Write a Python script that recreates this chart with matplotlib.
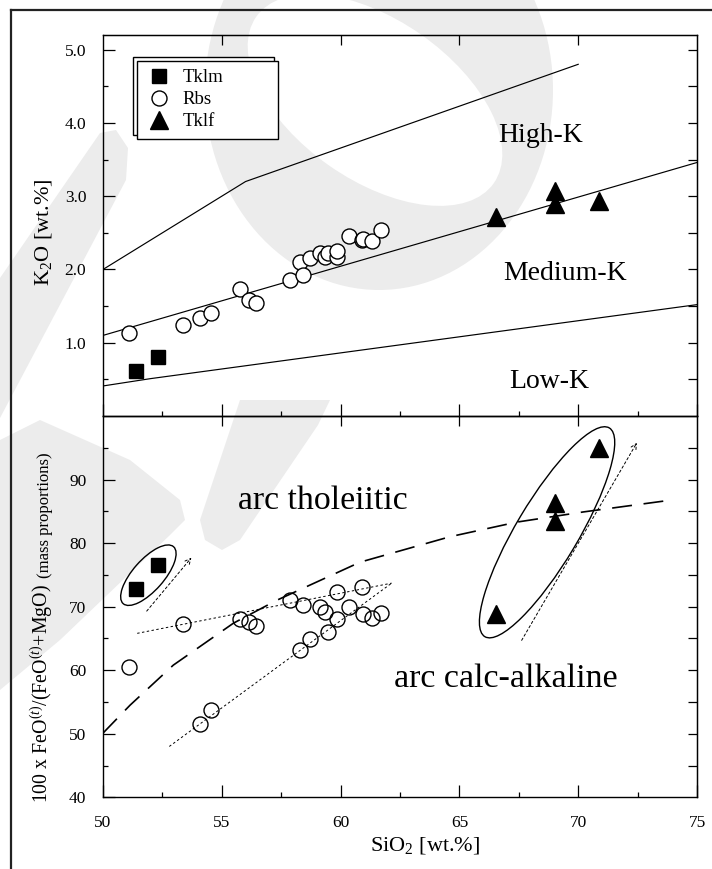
import numpy as np
import matplotlib
matplotlib.use("Agg")
import matplotlib.pyplot as plt
from matplotlib.patches import Ellipse, Polygon, Rectangle
from matplotlib.transforms import ScaledTranslation, IdentityTransform
from matplotlib.lines import Line2D

plt.rcParams['font.family'] = ['Liberation Serif', 'DejaVu Serif']
plt.rcParams['mathtext.fontset'] = 'custom'
plt.rcParams['mathtext.rm'] = 'Liberation Serif'
plt.rcParams['mathtext.it'] = 'Liberation Serif:italic'
plt.rcParams['mathtext.bf'] = 'Liberation Serif:bold'

# ---- data ----
tklm_sio2 = [51.4, 52.3]
tklm_k2o = [0.61, 0.81]
tklm_feo = [72.7, 76.5]

tklf_sio2 = [66.55, 69.03, 69.03, 70.87]
tklf_k2o = [2.72, 3.07, 2.90, 2.94]
tklf_feo = [68.8, 86.3, 83.4, 95.0]

rbs_sio2 = [51.1, 53.37, 54.1, 54.55, 55.78, 56.16, 56.44, 57.87, 58.29, 58.40, 58.72,
            59.13, 59.34, 59.48, 59.84, 59.86, 60.35, 60.9, 60.95, 61.33, 61.7]
rbs_k2o = [1.13, 1.24, 1.34, 1.41, 1.73, 1.59, 1.54, 1.85, 2.10, 1.93, 2.16,
           2.22, 2.17, 2.22, 2.17, 2.25, 2.45, 2.40, 2.42, 2.39, 2.54]
rbs_feo = [60.5, 67.2, 51.6, 53.7, 68.0, 67.6, 66.9, 71.0, 63.2, 70.3, 64.9,
           70.0, 69.1, 66.0, 72.3, 68.0, 69.9, 73.1, 68.9, 68.2, 69.0]

# K2O series boundaries
hk_sio2 = [50, 56, 70]
hk_k2o = [2.0, 3.2, 4.8]
mk_sio2 = [50, 75]
mk_k2o = [1.1, 3.46]
lk_sio2 = [50, 52, 75]
lk_k2o = [0.41, 0.51, 1.52]

# tholeiitic / calc-alkaline divide
th_sio2 = [50, 51.14, 52.96, 55.49, 57.31, 60.82, 64.6, 67.41, 70.21, 73.58]
th_feo = [50.1, 54.5, 60.8, 67.4, 71.0, 77.0, 81.0, 83.3, 84.9, 86.6]

# trend arrows (start, end) in data units
tklm_arrow = [(51.84, 69.3), (53.72, 77.7)]
tklf_arrow = [(67.62, 64.7), (72.47, 95.8)]
rbs_trend1 = [(51.44, 65.8), (62.15, 73.7)]
rbs_trend2 = [(52.79, 48.0), (62.15, 73.7)]

# ---- figure ----
W, H = 712, 869
fig = plt.figure(figsize=(W / 100, H / 100), dpi=100)
fig.patch.set_facecolor('white')

# faint background watermark
wm = '#ececec'


def wm_poly(pts):
    verts = [(x / 100, (H - y) / 100) for x, y in pts]
    fig.add_artist(Polygon(verts, closed=True, transform=fig.dpi_scale_trans,
                           fc=wm, ec='none', zorder=-6))


def wm_ell(cx, cy, w, h, ang, col, z):
    fig.add_artist(Ellipse((cx / 100, (H - cy) / 100), w / 100, h / 100, angle=ang,
                           transform=fig.dpi_scale_trans, fc=col, ec='none', zorder=z))


wm_ell(379, 90, 348, 400, 0, wm, -6)
wm_ell(375, 100, 290, 160, -35, 'white', -5)
wm_poly([(0, 278), (100, 133), (116, 130), (128, 148), (126, 180), (0, 418)])
wm_poly([(240, 400), (330, 400), (318, 425), (240, 540), (222, 550), (205, 540), (200, 520)])
wm_poly([(0, 440), (40, 420), (130, 460), (180, 500), (185, 520), (170, 535), (60, 640), (0, 690)])

# outer frame (left and top only)
fig.add_artist(Line2D([11 / W, 11 / W], [0, 1 - 10 / H], transform=fig.transFigure,
                      color='#222222', lw=1.6, zorder=10))
fig.add_artist(Line2D([11 / W, 1], [1 - 10 / H, 1 - 10 / H], transform=fig.transFigure,
                      color='#222222', lw=1.6, zorder=10))

ax1 = fig.add_axes([103 / W, 1 - 416 / H, 594 / W, 381 / H])
ax2 = fig.add_axes([103 / W, 1 - 797.3 / H, 594 / W, 381.3 / H])

for ax in (ax1, ax2):
    ax.set_facecolor('none')
    for s in ax.spines.values():
        s.set_linewidth(1.0)
    ax.set_xlim(50, 75)
    ax.set_xticks([50, 55, 60, 65, 70, 75])
    ax.set_xticks([52.5, 57.5, 62.5, 67.5, 72.5], minor=True)
    ax.tick_params(axis='x', which='major', direction='in', length=9, width=0.9,
                   top=False, labelsize=12.5, pad=13)
    ax.tick_params(axis='x', which='minor', direction='in', length=3.8, width=0.9, top=False)
    ax.tick_params(axis='y', which='major', direction='in', length=8.5, width=0.9,
                   right=False, labelsize=12.5, pad=12)
    ax.tick_params(axis='y', which='minor', direction='in', length=3.5, width=0.9, right=False)
    sx = ax.secondary_xaxis('top')
    sx.set_xticks([55, 60, 65, 70])
    sx.tick_params(direction='in', length=7, width=0.9, labeltop=False)
    sx.set_xticklabels([])

ax1.tick_params(axis='x', labelbottom=False)

# ---- top panel: K2O vs SiO2 ----
ax1.set_ylim(0, 5.2)
ax1.set_yticks([1, 2, 3, 4, 5])
ax1.set_yticklabels(['1.0', '2.0', '3.0', '4.0', '5.0'])
ax1.set_yticks([0.5, 1.5, 2.5, 3.5, 4.5], minor=True)
sy1 = ax1.secondary_yaxis('right')
sy1.set_yticks(np.arange(0.5, 5.01, 0.5))
sy1.tick_params(direction='in', length=6.5, width=0.9, labelright=False)
sy1.set_yticklabels([])

for xs, ys in ((hk_sio2, hk_k2o), (mk_sio2, mk_k2o), (lk_sio2, lk_k2o)):
    ax1.plot(xs, ys, color='black', lw=0.85, zorder=2)

ax1.plot(tklm_sio2, tklm_k2o, 's', ms=9.4, mfc='black', mec='black', label='Tklm', zorder=4)
ax1.plot(rbs_sio2, rbs_k2o, 'o', ms=10.8, mfc='white', mec='black', mew=1.0, label='Rbs', zorder=3)
ax1.plot(tklf_sio2, tklf_k2o, '^', ms=13, mfc='black', mec='black', label='Tklf', zorder=4)

ax1.text(68.4, 3.83, 'High-K', fontsize=20, ha='center', va='center')
ax1.text(69.45, 1.95, 'Medium-K', fontsize=20, ha='center', va='center')
ax1.text(68.8, 0.475, 'Low-K', fontsize=20, ha='center', va='center')

leg = ax1.legend(loc='upper left', bbox_to_anchor=(0.0577, 0.7157, 0.2374, 0.2168),
                 mode='expand', borderaxespad=0, fontsize=13.5, numpoints=1,
                 borderpad=0.44, labelspacing=0.27, handlelength=1.47, handletextpad=0.51,
                 fancybox=False, framealpha=1, edgecolor='black', facecolor='white')
leg.get_frame().set_linewidth(1.0)
leg.set_zorder(6)

# ---- bottom panel: FeO(t)/(FeO(t)+MgO) vs SiO2 ----
ax2.set_ylim(40, 100)
ax2.set_yticks([40, 50, 60, 70, 80, 90])
ax2.set_yticks([45, 55, 65, 75, 85, 95], minor=True)
sy2 = ax2.secondary_yaxis('right')
sy2.set_yticks(np.arange(45, 96, 5))
sy2.tick_params(direction='in', length=6.5, width=0.9, labelright=False)
sy2.set_yticklabels([])

dl, = ax2.plot(th_sio2, th_feo, color='black', lw=1.2, zorder=2)
dl.set_dashes([12, 7])

ax2.plot(tklm_sio2, tklm_feo, 's', ms=9.4, mfc='black', mec='black', zorder=4)
ax2.plot(rbs_sio2, rbs_feo, 'o', ms=10.8, mfc='none', mec='black', mew=1.0, zorder=3)
ax2.plot(tklf_sio2, tklf_feo, '^', ms=13, mfc='black', mec='black', zorder=4)

dot = (0, (2.5, 2.5))
for (x0, y0), (x1, y1) in (rbs_trend1, rbs_trend2):
    ax2.plot([x0, x1], [y0, y1], color='black', lw=0.7, linestyle=dot, zorder=2)
for (x0, y0), (x1, y1) in (tklm_arrow, tklf_arrow):
    ax2.annotate('', xy=(x1, y1), xytext=(x0, y0),
                 arrowprops=dict(arrowstyle='->', lw=0.7, linestyle=dot, color='black',
                                 shrinkA=0, shrinkB=0, mutation_scale=10))


def ring(ax, cx, cy, w_px, h_px, ang):
    tr = fig.dpi_scale_trans + ScaledTranslation(cx, cy, ax.transData)
    ax.add_patch(Ellipse((0, 0), w_px / 100, h_px / 100, angle=ang, transform=tr,
                         fill=False, ec='black', lw=1.0, zorder=3))


ring(ax2, 51.91, 74.95, 76, 31, 48.5)
ring(ax2, 68.69, 81.7, 243, 62, 59.2)

ax2.text(59.26, 85.4, 'arc tholeiitic', fontsize=24.3, ha='center', va='baseline')
ax2.text(66.95, 57.4, 'arc calc-alkaline', fontsize=24.5, ha='center', va='baseline')

# axis titles
fig.text(49 / W, 1 - 232 / H, 'K$_2$O [wt.%]', fontsize=16, rotation=90,
         rotation_mode='anchor', ha='center', va='baseline')
fig.text(48 / W, 1 - 803 / H, '100 x FeO$^{(t)}$/(FeO$^{(t)}$+MgO)', fontsize=14.3,
         rotation=90, rotation_mode='anchor', ha='left', va='baseline')
fig.text(49 / W, 1 - 452 / H, '(mass proportions)', fontsize=12, rotation=90,
         rotation_mode='anchor', ha='right', va='baseline')
fig.text(425 / W, 1 - 851 / H, 'SiO$_2$ [wt.%]', fontsize=16, ha='center', va='baseline')

# legend shadow box (offset up-left)
fig.canvas.draw()
bb = leg.get_frame().get_window_extent()
ax1.add_patch(Rectangle((bb.x0 - 4, bb.y0 + 4), bb.width, bb.height, transform=IdentityTransform(),
                        fc='white', ec='black', lw=1.0, zorder=5.9, clip_on=False))

fig.savefig('out.png', dpi=100)
